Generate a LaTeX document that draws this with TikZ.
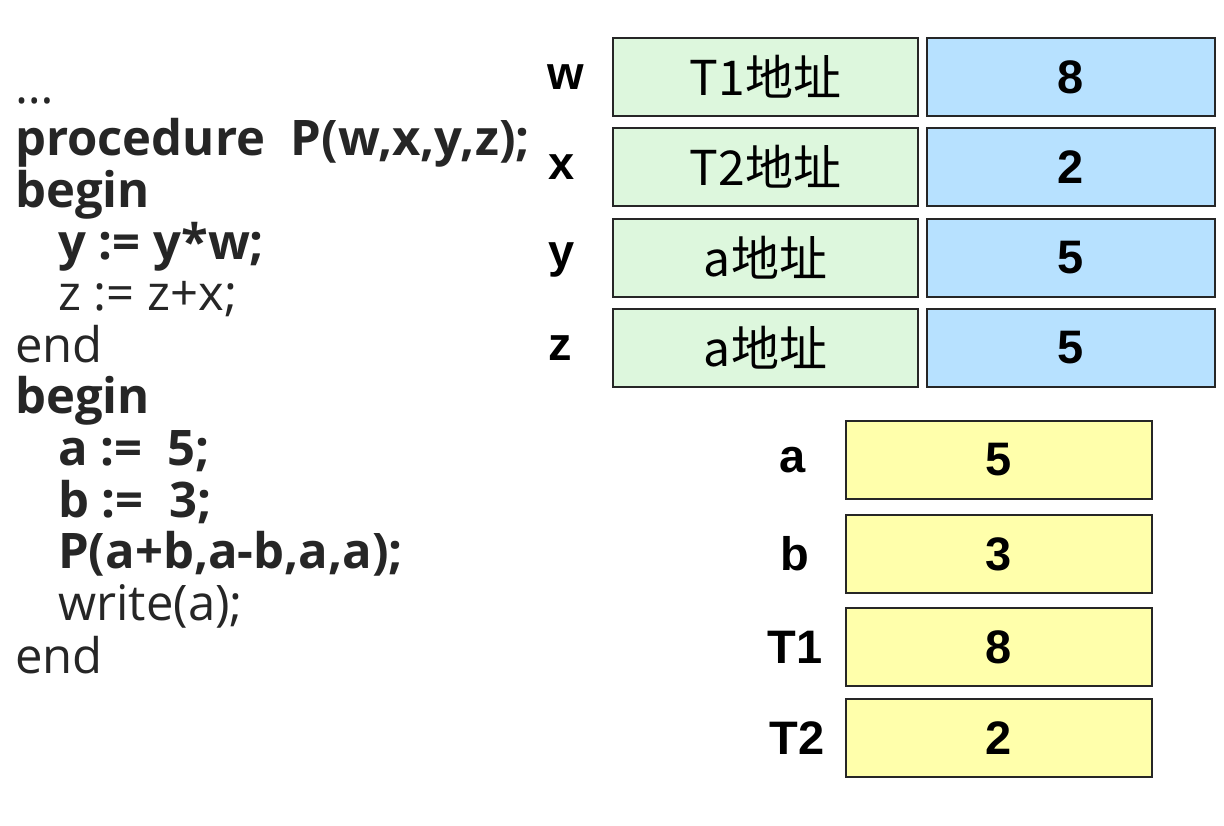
\documentclass[tikz,border=0pt]{standalone}
\usepackage{fontspec}
\setmainfont{Open Sans}
\newfontfamily\cjk{Noto Sans CJK SC}
\newfontfamily\arial{Liberation Sans}
\definecolor{cellgreen}{RGB}{221,247,221}
\definecolor{cellblue}{RGB}{183,225,255}
\definecolor{cellyellow}{RGB}{255,255,171}
\definecolor{codegray}{RGB}{38,38,38}
\tikzset{
  cell/.style={draw=black!85,line width=1.6pt,minimum height=78pt,inner sep=0pt},
  addr/.style={cell,fill=cellgreen,minimum width=305pt,font=\cjk\fontsize{48}{48}\selectfont},
  val/.style={cell,fill=cellblue,minimum width=288pt,font=\arial\bfseries\fontsize{47}{47}\selectfont},
  mem/.style={cell,fill=cellyellow,minimum width=306pt,font=\arial\bfseries\fontsize{47}{47}\selectfont},
  vname/.style={inner sep=0pt,font=\arial\bfseries\fontsize{47}{47}\selectfont},
  code/.style={anchor=base west,inner sep=0pt,text=codegray,font=\fontsize{49}{49}\selectfont},
}
\begin{document}
\begin{tikzpicture}[x=1pt,y=-1pt]
\useasboundingbox[fill=white](0,0)rectangle(1224,825);
% program text
\node[code](l0)at(15,103){…};
\node[code](l1)at(15,155){\bfseries procedure\ \ P(w,x,y,z);};
\node[code](l2)at(15,207){\bfseries begin};
\node[code](l3)at(58,259){\bfseries y := y*w;};
\node[code](l4)at(58,310){z := z+x;};
\node[code](l5)at(15,362){end};
\node[code](l6)at(15,413){\bfseries begin};
\node[code](l7)at(58,465){\bfseries a :=\ \ 5;};
\node[code](l8)at(58,517){\bfseries b :=\ \ 3;};
\node[code](l9)at(58,568){\bfseries P(a+b,a-b,a,a);};
\node[code](l10)at(58,620){write(a);};
\node[code](l11)at(15,673){end};
% formal parameters
\node[addr](waddr)at(765.5,77){T1地址};
\node[val](wval)at(1071,77){8};
\node[addr](xaddr)at(765.5,167){T2地址};
\node[val](xval)at(1071,167){2};
\node[addr](yaddr)at(765.5,258){a地址};
\node[val](yval)at(1071,258){5};
\node[addr](zaddr)at(765.5,348){a地址};
\node[val](zval)at(1071,348){5};
\node[vname](wname)at(566,77){w};
\node[vname](xname)at(562,167){x};
\node[vname](yname)at(562,260){y};
\node[vname](zname)at(560,348){z};
% actual storage
\node[mem](amem)at(999,460){5};
\node[mem](bmem)at(999,554){3};
\node[mem](tamem)at(999,647){8};
\node[mem](tbmem)at(999,738){2};
\node[vname](aname)at(793,460){a};
\node[vname](bname)at(795,554){b};
\node[vname](taname)at(795,647){T1};
\node[vname](tbname)at(797,738){T2};
\end{tikzpicture}
\end{document}
